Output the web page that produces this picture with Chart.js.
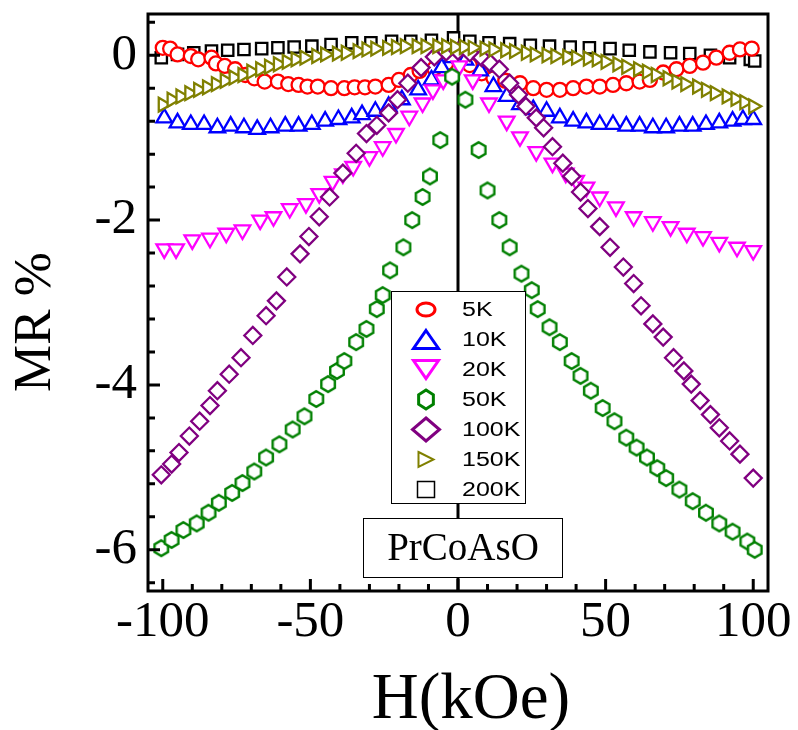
<!DOCTYPE html>
<html>
<head>
<meta charset="utf-8">
<title>PrCoAsO MR</title>
<script src="https://cdn.jsdelivr.net/npm/chart.js@4.4.1/dist/chart.umd.min.js"></script>
<style>
  html, body { margin: 0; padding: 0; background: #fff; }
  #mrChart { display: block; }
</style>
</head>
<body>
<canvas id="mrChart" width="798" height="730"></canvas>
<script>
// field values (kOe) and MR (%), one pair of arrays per temperature
const h5K = [-100, -97.5, -95, -90.5, -88, -83.5, -82, -79, -75.5, -72, -69, -65.5, -61, -57.5, -54, -51, -47.5, -43, -38.5, -35, -31.5, -28, -23.5, -20, -16, -13, -8, -4, 0, 4, 8, 12, 16, 21, 25.5, 30, 34.5, 39, 43.5, 48, 52.5, 57, 61.5, 65, 69.5, 74, 78.5, 83, 87.5, 92, 95.5, 99.5];
const mr5K = [0.09, 0.08, 0.01, -0.01, -0.05, -0.03, -0.10, -0.13, -0.17, -0.24, -0.28, -0.32, -0.32, -0.35, -0.36, -0.38, -0.38, -0.40, -0.40, -0.39, -0.39, -0.38, -0.36, -0.30, -0.24, -0.19, -0.16, -0.10, -0.05, -0.12, -0.22, -0.28, -0.31, -0.34, -0.40, -0.42, -0.42, -0.40, -0.38, -0.38, -0.36, -0.34, -0.32, -0.30, -0.21, -0.17, -0.13, -0.09, -0.03, 0.03, 0.07, 0.08];

const h10K = [-99.5, -95, -90.5, -86, -81.5, -77, -72.5, -68, -63.5, -58.5, -54, -49.5, -45, -40.5, -36, -32.5, -28, -23.5, -19, -13.5, -9, -5.5, -2, 2.5, 7.5, 12, 16.5, 21, 25.5, 30, 34.5, 39, 43.5, 48, 52.5, 57, 61.5, 66, 70.5, 75, 79.5, 84, 88.5, 93, 96.5, 100];
const mr10K = [-0.76, -0.82, -0.84, -0.84, -0.88, -0.86, -0.88, -0.90, -0.88, -0.86, -0.86, -0.84, -0.80, -0.78, -0.76, -0.72, -0.68, -0.62, -0.54, -0.42, -0.30, -0.15, -0.03, -0.06, -0.19, -0.38, -0.50, -0.60, -0.66, -0.68, -0.76, -0.80, -0.82, -0.84, -0.84, -0.86, -0.86, -0.88, -0.88, -0.86, -0.86, -0.84, -0.82, -0.80, -0.78, -0.78];

const h20K = [-99.5, -95.5, -90, -84, -78.5, -73, -67, -62.5, -57, -51.5, -47, -42.5, -39, -35.5, -30, -25.5, -21, -16.5, -12, -8.5, -5, 0.5, 5, 10.5, 16.5, 21, 26.5, 32, 36.5, 40, 43.5, 48, 53.5, 59.5, 66, 72, 77.5, 83, 88.5, 94.5, 100];
const mr20K = [-2.35, -2.35, -2.24, -2.22, -2.16, -2.12, -2.00, -1.96, -1.86, -1.80, -1.68, -1.53, -1.44, -1.35, -1.23, -1.11, -0.95, -0.74, -0.58, -0.42, -0.30, -0.13, -0.30, -0.58, -0.80, -0.99, -1.17, -1.31, -1.43, -1.52, -1.60, -1.72, -1.84, -1.96, -2.02, -2.08, -2.16, -2.20, -2.27, -2.33, -2.37];

const h50K = [-100.5, -97, -93, -88.5, -84.5, -81, -76.5, -73, -69, -65, -60.5, -56, -52, -48, -44, -41, -38.5, -34.5, -31, -27.5, -25.5, -23, -18.5, -15.5, -12, -9.5, -6, -2, 2.5, 7, 10, 14, 17.5, 21.5, 25, 27, 31, 34.5, 38.5, 41.5, 45, 49, 53, 57, 60.5, 64, 67.5, 70.5, 75, 79.5, 84, 88.5, 93, 98, 100.5];
const mr50K = [-5.98, -5.88, -5.76, -5.68, -5.55, -5.43, -5.31, -5.19, -5.05, -4.88, -4.72, -4.54, -4.38, -4.17, -3.99, -3.83, -3.71, -3.48, -3.32, -3.08, -2.91, -2.61, -2.33, -2.00, -1.72, -1.47, -1.03, -0.26, -0.54, -1.15, -1.64, -2.00, -2.33, -2.65, -2.85, -3.08, -3.30, -3.48, -3.71, -3.89, -4.07, -4.28, -4.44, -4.64, -4.76, -4.88, -5.01, -5.13, -5.27, -5.41, -5.55, -5.68, -5.78, -5.90, -6.00];

const h100K = [-100.5, -97, -94.5, -91, -87.5, -84, -81.5, -77.5, -73.5, -69.5, -65, -61.5, -58, -53.5, -50.5, -47, -43.5, -39, -34.5, -31, -27.5, -23.5, -20.5, -17, -12.5, -8, -4, 0, 4, 8, 11, 14, 17.5, 20.5, 23, 26.5, 29, 32, 35.5, 38.5, 41.5, 44, 48, 51.5, 56, 59.5, 62, 66, 69.5, 73, 76.5, 79, 82, 85.5, 88.5, 92, 95.5, 100];
const mr100K = [-5.09, -4.96, -4.82, -4.62, -4.44, -4.25, -4.07, -3.87, -3.67, -3.40, -3.16, -2.98, -2.69, -2.41, -2.20, -1.96, -1.72, -1.43, -1.19, -0.95, -0.85, -0.70, -0.54, -0.34, -0.15, -0.02, 0.04, 0.05, 0.03, -0.03, -0.10, -0.17, -0.34, -0.48, -0.62, -0.76, -0.88, -1.11, -1.31, -1.47, -1.66, -1.86, -2.08, -2.33, -2.57, -2.77, -3.04, -3.26, -3.42, -3.67, -3.83, -3.99, -4.19, -4.36, -4.52, -4.68, -4.84, -5.13];

const h150K = [-100, -97, -94, -91, -88, -85, -82, -79, -76, -73, -70, -67, -64, -61, -58, -55, -52, -48, -45, -41, -38, -34, -31, -28, -24, -21, -18, -14, -11, -7, -4, -1, 2, 5, 9, 12, 16, 19, 23, 26, 30, 33, 37, 40, 44, 47, 50, 54, 57, 61, 64, 67, 71, 74, 77, 81, 84, 87, 91, 94, 97, 100];
const mr150K = [-0.60, -0.54, -0.50, -0.46, -0.42, -0.39, -0.35, -0.31, -0.27, -0.24, -0.20, -0.17, -0.14, -0.11, -0.08, -0.05, -0.03, -0.01, 0.01, 0.02, 0.03, 0.05, 0.07, 0.08, 0.09, 0.10, 0.11, 0.11, 0.11, 0.11, 0.11, 0.10, 0.10, 0.09, 0.08, 0.07, 0.06, 0.05, 0.03, 0.01, 0.00, -0.01, -0.02, -0.03, -0.04, -0.05, -0.08, -0.11, -0.14, -0.17, -0.20, -0.24, -0.28, -0.32, -0.35, -0.38, -0.42, -0.46, -0.50, -0.53, -0.57, -0.62];

const h200K = [-100.5, -95, -89.5, -83.5, -78, -72.5, -66.5, -61, -55.5, -49.5, -43, -36, -29.5, -22.5, -16, -9, -1.5, 4, 10.5, 17.5, 24.5, 31, 38, 44.5, 51.5, 58, 65, 72, 78.5, 85.5, 92, 99, 100.5];
const mr200K = [-0.03, 0.01, 0.03, 0.05, 0.06, 0.07, 0.08, 0.09, 0.10, 0.11, 0.13, 0.15, 0.15, 0.17, 0.17, 0.18, 0.21, 0.17, 0.15, 0.14, 0.12, 0.11, 0.10, 0.09, 0.08, 0.06, 0.04, 0.03, 0.02, 0.00, -0.03, -0.05, -0.07];

const xTickLabels = [-100, -50, 0, 50, 100];
const yTickLabels = [-6, -4, -2, 0];
const sampleName = 'PrCoAsO';

const SERIF = '"Liberation Serif", "Times New Roman", serif';
const SANS = '"Liberation Sans", Arial, sans-serif';

function pairs(hs, ms) {
    return hs.map((h, i) => ({ x: h, y: ms[i] }));
}

// open hexagon (pointy top) used as a point style
function hexagonImage(color, r, lw) {
    const size = Math.ceil(2 * r + lw + 2);
    const c = document.createElement('canvas');
    c.width = size;
    c.height = size;
    const g = c.getContext('2d');
    hexPath(g, size / 2, size / 2, r, r);
    g.fillStyle = '#fff';
    g.fill();
    g.lineWidth = lw;
    g.strokeStyle = color;
    g.stroke();
    return c;
}

function hexPath(g, cx, cy, rx, ry) {
    g.beginPath();
    for (let i = 0; i < 6; i++) {
        const a = Math.PI / 3 * i - Math.PI / 2;
        const px = cx + rx * Math.cos(a);
        const py = cy + ry * Math.sin(a);
        if (i === 0) g.moveTo(px, py); else g.lineTo(px, py);
    }
    g.closePath();
}

function series(label, hs, ms, color, style, radius, rotation, order, legendMark) {
    return {
        label: label,
        data: pairs(hs, ms),
        showLine: false,
        pointStyle: style,
        pointRadius: radius,
        pointHoverRadius: radius,
        pointRotation: rotation,
        pointBorderColor: color,
        pointBackgroundColor: '#fff',
        pointBorderWidth: 2.3,
        borderColor: color,
        order: order,
        legendMark: legendMark
    };
}

const datasets = [
    series('5K', h5K, mr5K, '#ff0000', 'circle', 7, 0, 5, { kind: 'circle', w: 21, h: 16, lw: 3 }),
    series('10K', h10K, mr10K, '#0000ff', 'triangle', 9, 0, 4, { kind: 'up', w: 25, h: 18, lw: 3 }),
    series('20K', h20K, mr20K, '#ff00ff', 'triangle', 9, 180, 3, { kind: 'down', w: 25, h: 18, lw: 3 }),
    series('50K', h50K, mr50K, '#008000', hexagonImage('#008000', 7.8, 2.4), 8, 0, 2, { kind: 'hex', w: 20, h: 22, lw: 3 }),
    series('100K', h100K, mr100K, '#800080', 'rectRot', 8.5, 0, 1, { kind: 'diamond', w: 27, h: 23, lw: 3 }),
    series('150K', h150K, mr150K, '#808000', 'triangle', 8, 90, 0, { kind: 'right', w: 15, h: 15, lw: 2 }),
    series('200K', h200K, mr200K, '#000000', 'rect', 8, 0, 6, { kind: 'square', w: 17, h: 16, lw: 1.5 })
];

function drawLegendMark(ctx, m, color, x, y) {
    const w = m.w / 2, h = m.h / 2;
    ctx.beginPath();
    if (m.kind === 'circle') {
        ctx.ellipse(x, y, w - 1.5, h - 1.5, 0, 0, Math.PI * 2);
    } else if (m.kind === 'up') {
        ctx.moveTo(x, y - h); ctx.lineTo(x + w, y + h); ctx.lineTo(x - w, y + h); ctx.closePath();
    } else if (m.kind === 'down') {
        ctx.moveTo(x - w, y - h); ctx.lineTo(x + w, y - h); ctx.lineTo(x, y + h); ctx.closePath();
    } else if (m.kind === 'right') {
        ctx.moveTo(x - w, y - h); ctx.lineTo(x + w, y); ctx.lineTo(x - w, y + h); ctx.closePath();
    } else if (m.kind === 'diamond') {
        ctx.moveTo(x, y - h); ctx.lineTo(x + w, y); ctx.lineTo(x, y + h); ctx.lineTo(x - w, y); ctx.closePath();
    } else if (m.kind === 'square') {
        ctx.rect(x - w, y - h, 2 * w, 2 * h);
    } else if (m.kind === 'hex') {
        hexPath(ctx, x, y, w - 1.5, h - 1.5);
    }
    ctx.fillStyle = '#fff';
    ctx.fill();
    ctx.lineWidth = m.lw;
    ctx.strokeStyle = color;
    ctx.stroke();
}

const framePlugin = {
    id: 'frame',
    beforeDatasetsDraw(chart) {
        const { ctx, chartArea, scales } = chart;
        const x0 = scales.x.getPixelForValue(0);
        ctx.save();
        ctx.strokeStyle = '#000';
        ctx.lineWidth = 3;
        ctx.beginPath();
        ctx.moveTo(x0, chartArea.top);
        ctx.lineTo(x0, chartArea.bottom);
        ctx.stroke();
        ctx.restore();
    },
    afterDatasetsDraw(chart) {
        const { ctx, chartArea: a, scales } = chart;
        ctx.save();
        ctx.strokeStyle = '#000';
        ctx.lineWidth = 3;
        ctx.strokeRect(a.left, a.top, a.right - a.left, a.bottom - a.top);

        // inward ticks on the bottom and left axes
        ctx.beginPath();
        for (let v = -100; v <= 100; v += 10) {
            const px = scales.x.getPixelForValue(v);
            const len = v % 50 === 0 ? 12 : 7;
            ctx.moveTo(px, a.bottom);
            ctx.lineTo(px, a.bottom - len);
        }
        for (let k = 1; k >= -16; k--) {
            const py = scales.y.getPixelForValue(k * 0.4);
            const len = k % 5 === 0 ? 12 : 7;
            ctx.moveTo(a.left, py);
            ctx.lineTo(a.left + len, py);
        }
        ctx.stroke();

        // legend box
        ctx.fillStyle = '#fff';
        ctx.fillRect(391, 291, 135, 213);
        ctx.lineWidth = 1;
        ctx.strokeRect(391.5, 291.5, 134, 212);
        chart.data.datasets.forEach((ds, i) => {
            const y = 309.5 + i * 30;
            drawLegendMark(ctx, ds.legendMark, ds.pointBorderColor, 426, y);
            ctx.save();
            ctx.translate(462, y);
            ctx.scale(1.25, 1);
            ctx.fillStyle = '#000';
            ctx.font = '20px ' + SANS;
            ctx.textAlign = 'left';
            ctx.textBaseline = 'middle';
            ctx.fillText(ds.label, 0, 1);
            ctx.restore();
        });

        // sample label box
        ctx.fillStyle = '#fff';
        ctx.fillRect(363, 518, 200, 60);
        ctx.lineWidth = 1;
        ctx.strokeStyle = '#000';
        ctx.strokeRect(363.5, 518.5, 199, 59);
        ctx.fillStyle = '#000';
        ctx.font = '39px ' + SERIF;
        ctx.textAlign = 'center';
        ctx.textBaseline = 'alphabetic';
        ctx.fillText(sampleName, 463, 560);

        // axis titles
        ctx.font = '65px ' + SERIF;
        ctx.fillText('H(kOe)', 471, 718);
        ctx.save();
        ctx.translate(50, 322);
        ctx.rotate(-Math.PI / 2);
        ctx.font = '53px ' + SERIF;
        ctx.fillText('MR %', 0, 0);
        ctx.restore();
        ctx.restore();
    }
};

const tickFont = { family: SERIF, size: 51, lineHeight: 1 };

new Chart(document.getElementById('mrChart'), {
    type: 'scatter',
    data: { datasets: datasets },
    options: {
        responsive: false,
        animation: false,
        layout: { padding: { top: 14, right: 30, left: 0, bottom: 0 } },
        plugins: { legend: { display: false }, tooltip: { enabled: false } },
        scales: {
            x: {
                type: 'linear',
                min: -105,
                max: 105,
                afterBuildTicks: s => { s.ticks = xTickLabels.map(v => ({ value: v })); },
                afterFit: s => { s.height = 139; s.paddingLeft = 0; s.paddingRight = 0; },
                ticks: { font: tickFont, color: '#000', padding: 6, maxRotation: 0, autoSkip: false, callback: v => String(v) },
                grid: { display: false, drawTicks: false },
                border: { display: false }
            },
            y: {
                type: 'linear',
                min: -6.5,
                max: 0.5,
                afterBuildTicks: s => { s.ticks = yTickLabels.map(v => ({ value: v })); },
                afterFit: s => { s.width = 148; s.paddingTop = 0; s.paddingBottom = 0; },
                ticks: { font: tickFont, color: '#000', padding: 11, autoSkip: false, callback: v => String(v) },
                grid: { display: false, drawTicks: false },
                border: { display: false }
            }
        }
    },
    plugins: [framePlugin]
});
</script>
</body>
</html>
